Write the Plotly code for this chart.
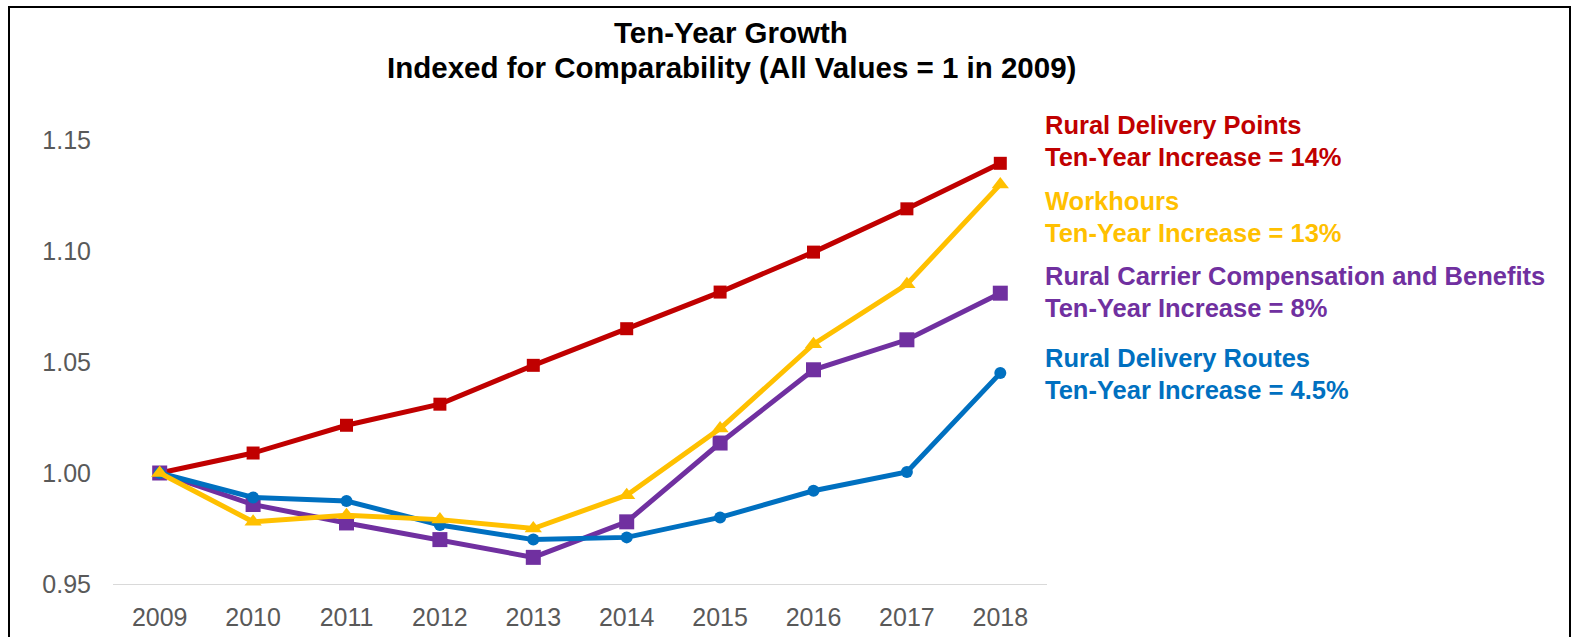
import plotly.graph_objects as go

years = ["2009", "2010", "2011", "2012", "2013", "2014", "2015", "2016", "2017", "2018"]

delivery_points = [1.000, 1.009, 1.0215, 1.031, 1.0485, 1.065, 1.0815, 1.0995, 1.119, 1.1395]
workhours = [1.000, 0.978, 0.981, 0.979, 0.975, 0.990, 1.020, 1.058, 1.085, 1.130]
compensation = [1.000, 0.9858, 0.9775, 0.970, 0.962, 0.978, 1.0135, 1.0465, 1.060, 1.081]
routes = [1.000, 0.989, 0.9874, 0.9766, 0.970, 0.971, 0.980, 0.992, 1.0005, 1.045]

y_ticks = [0.95, 1.00, 1.05, 1.10, 1.15]

RED = "#C00000"
YELLOW = "#FFC000"
PURPLE = "#7030A0"
BLUE = "#0070C0"

W, H = 1573, 637
L, R, T, B = 113, 1047, 140, 584  # plot area in pixels


def px(x):
    return (x - L) / (R - L)


def py(y):
    return (B - y) / (B - T)


fig = go.Figure()

fig.add_trace(go.Scatter(
    x=years, y=delivery_points, mode="lines+markers", name="Rural Delivery Points",
    line=dict(color=RED, width=5), marker=dict(symbol="square", size=13, color=RED),
))
fig.add_trace(go.Scatter(
    x=years, y=compensation, mode="lines+markers", name="Rural Carrier Compensation and Benefits",
    line=dict(color=PURPLE, width=5), marker=dict(symbol="square", size=15, color=PURPLE),
))
fig.add_trace(go.Scatter(
    x=years, y=routes, mode="lines+markers", name="Rural Delivery Routes",
    line=dict(color=BLUE, width=5), marker=dict(symbol="circle", size=12, color=BLUE),
))
fig.add_trace(go.Scatter(
    x=years, y=workhours, mode="lines+markers", name="Workhours",
    line=dict(color=YELLOW, width=5), marker=dict(symbol="triangle-up", size=15, color=YELLOW),
))

font_family = "Liberation Sans, Arial, sans-serif"

labels = [
    ("Rural Delivery Points", "Ten-Year Increase = 14%", RED, 125, 157),
    ("Workhours", "Ten-Year Increase = 13%", YELLOW, 201, 233),
    ("Rural Carrier Compensation and Benefits", "Ten-Year Increase = 8%", PURPLE, 276, 308),
    ("Rural Delivery Routes", "Ten-Year Increase = 4.5%", BLUE, 358, 390),
]
annotations = []
for name, inc, color, y1, y2 in labels:
    for text, yy in ((name, y1), (inc, y2)):
        annotations.append(dict(
            x=px(1043), y=py(yy), xref="paper", yref="paper", text="<b>%s</b>" % text,
            showarrow=False, xanchor="left", yanchor="middle",
            font=dict(family=font_family, size=25.5, color=color),
        ))

annotations.append(dict(
    x=px(731), y=py(32), xref="paper", yref="paper", text="<b>Ten-Year Growth</b>",
    showarrow=False, xanchor="center", yanchor="middle",
    font=dict(family=font_family, size=29.5, color="#000000"),
))
annotations.append(dict(
    x=px(731), y=py(67), xref="paper", yref="paper",
    text="<b>Indexed for Comparability (All Values = 1 in 2009)</b>",
    showarrow=False, xanchor="center", yanchor="middle",
    font=dict(family=font_family, size=29.5, color="#000000"),
))

fig.update_layout(
    width=W, height=H,
    margin=dict(l=L, r=W - R, t=T, b=H - B, pad=0),
    paper_bgcolor="white", plot_bgcolor="white",
    showlegend=False,
    annotations=annotations,
    shapes=[dict(
        type="rect", xref="paper", yref="paper",
        x0=px(9), x1=px(1570), y0=py(660), y1=py(7),
        line=dict(color="#000000", width=2), fillcolor="rgba(0,0,0,0)", layer="below",
    )],
    font=dict(family=font_family),
)

fig.update_xaxes(
    type="category", range=[-0.5, 9.5], automargin=False,
    showgrid=False, zeroline=False,
    showline=True, linecolor="#D9D9D9", linewidth=1,
    ticks="outside", ticklen=11, tickcolor="rgba(0,0,0,0)",
    tickfont=dict(family=font_family, size=25, color="#595959"),
)
fig.update_yaxes(
    range=[0.95, 1.15], tickvals=y_ticks, ticktext=["%.2f" % v for v in y_ticks],
    automargin=False,
    showgrid=False, zeroline=False, showline=False,
    ticks="outside", ticklen=16, tickcolor="rgba(0,0,0,0)",
    tickfont=dict(family=font_family, size=25, color="#595959"),
)

for tr in fig.data:
    tr.cliponaxis = False

fig.write_html("out.html")
